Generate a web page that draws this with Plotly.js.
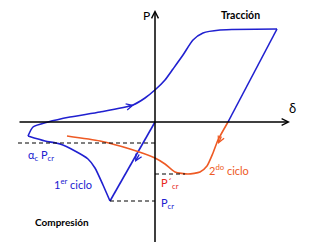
<!DOCTYPE html>
<html><head><meta charset="utf-8">
<script src="https://cdn.plot.ly/plotly-3.0.1.min.js"></script>
<style>html,body{margin:0;padding:0;background:#fff}#c{width:321px;height:242px}</style>
</head><body><div id="c"></div>
<script>
// First cycle (blue), delta / P values (arbitrary units)
const cycle1Delta = [0, -45, -52, -60, -67, -80, -95, -110, -127, -122, -107, -85, -55, -22, -10, 1, 10, 18, 28, 38, 48, 65, 122, 73];
const cycle1P     = [0, -79, -63, -46, -37, -29, -22, -19, -14, -5, 0, 5, 10, 17, 24, 33, 42, 53, 67, 82, 89, 92, 93, 0];
// Second cycle (orange)
const cycle2Delta = [73, 63, 58, 52, 45, 33, 20, 10, 0, -25, -55, -88];
const cycle2P     = [0, -18, -31, -44, -50, -52, -50, -42, -36, -27, -19, -14];
// Reference load levels
const alphaPcr = -21;
const Pcr2 = -52;
const Pcr = -79;

const blue = '#2020d0';
const orange = '#ee5a24';
const F = 'Lato, "Open Sans", sans-serif';

function seg(xs, ys, a, b, color, shape) {
  return {x: xs.slice(a, b + 1), y: ys.slice(a, b + 1), mode: 'lines',
    line: {color: color, width: 1.6, shape: shape, smoothing: 0.6}, hoverinfo: 'skip'};
}

const data = [
  seg(cycle1Delta, cycle1P, 0, 1, blue, 'linear'),
  seg(cycle1Delta, cycle1P, 1, 8, blue, 'spline'),
  seg(cycle1Delta, cycle1P, 8, 22, blue, 'spline'),
  seg(cycle1Delta, cycle1P, 22, 23, blue, 'linear'),
  seg(cycle2Delta, cycle2P, 0, cycle2Delta.length - 1, orange, 'spline')
];

const shapes = [
  {type: 'line', x0: -137, x1: 0, y0: alphaPcr, y1: alphaPcr, line: {color: '#000', width: 1, dash: '4px,3px'}},
  {type: 'line', x0: 0, x1: 30, y0: Pcr2, y1: Pcr2, line: {color: '#000', width: 1, dash: '4px,3px'}},
  {type: 'line', x0: -45, x1: 0, y0: Pcr, y1: Pcr, line: {color: '#000', width: 1, dash: '4px,3px'}}
];

const ann = [
  // axes with arrowheads
  {x: 135, y: 0, ax: -137, ay: 0, axref: 'x', ayref: 'y', xref: 'x', yref: 'y', showarrow: true, arrowhead: 5, arrowsize: 0.9, arrowwidth: 1.5, arrowcolor: '#000', text: ''},
  {x: 0, y: 112, ax: 0, ay: -122, axref: 'x', ayref: 'y', xref: 'x', yref: 'y', showarrow: true, arrowhead: 5, arrowsize: 0.9, arrowwidth: 1.5, arrowcolor: '#000', text: ''},
  // direction arrows
  {x: -20, y: -40, ax: 5, ay: -9, showarrow: true, arrowhead: 5, arrowsize: 0.9, arrowwidth: 1.4, arrowcolor: blue, text: ''},
  {x: -21, y: 17, ax: -8, ay: 2, showarrow: true, arrowhead: 5, arrowsize: 0.9, arrowwidth: 1.4, arrowcolor: blue, text: ''},
  {x: 63, y: -22, ax: 4, ay: -9, showarrow: true, arrowhead: 5, arrowsize: 0.9, arrowwidth: 1.4, arrowcolor: orange, text: ''},
  // labels
  {x: -9, y: 107, text: 'P', showarrow: false, font: {family: F, size: 12, color: '#000'}},
  {x: 137, y: 14, text: 'δ', showarrow: false, font: {family: F, size: 13, color: '#000'}},
  {x: 85, y: 107, text: '<b>Tracción</b>', showarrow: false, font: {family: F, size: 10.5, color: '#000'}},
  {x: -93, y: -100, text: '<b>Compresión</b>', showarrow: false, font: {family: F, size: 10, color: '#000'}},
  {x: -114, y: -33, text: 'α<sub>c</sub> P<sub>cr</sub>', showarrow: false, font: {family: F, size: 11, color: blue}},
  {x: -82, y: -61, text: '1<sup>er</sup> ciclo', showarrow: false, font: {family: F, size: 11, color: blue}},
  {x: 74, y: -47, text: '2<sup>do</sup> ciclo', showarrow: false, font: {family: F, size: 11, color: orange}},
  {x: 4, y: -61, xanchor: 'left', text: 'P´<sub>cr</sub>', showarrow: false, font: {family: F, size: 11, color: '#e8261c'}},
  {x: 4, y: -81, xanchor: 'left', text: 'P<sub>cr</sub>', showarrow: false, font: {family: F, size: 11, color: blue}}
];

const layout = {
  width: 321, height: 242,
  margin: {l: 0, r: 0, t: 0, b: 0},
  paper_bgcolor: '#fff', plot_bgcolor: '#fff',
  showlegend: false,
  xaxis: {range: [-155, 166], visible: false, fixedrange: true},
  yaxis: {range: [-120, 122], visible: false, fixedrange: true},
  shapes: shapes,
  annotations: ann
};

Plotly.newPlot('c', data, layout, {staticPlot: true, displayModeBar: false});
</script>
</body></html>
